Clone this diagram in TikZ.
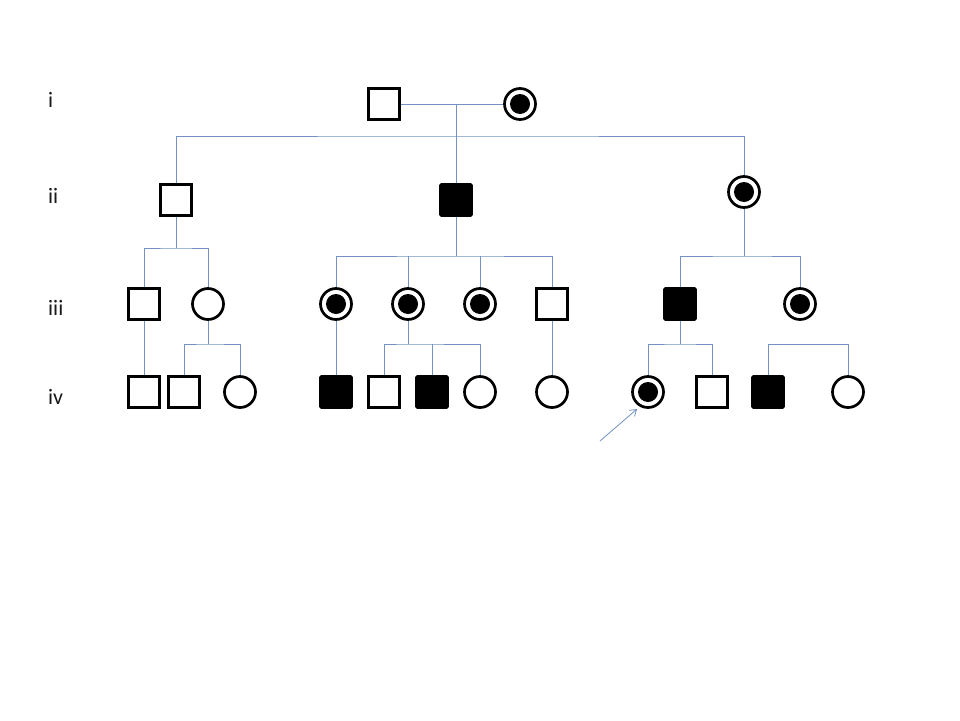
\documentclass[tikz,border=0pt]{standalone}
\usepackage{fontspec}
\setmainfont{Carlito}
\usetikzlibrary{arrows.meta}
\definecolor{link}{RGB}{115,145,195}
\tikzset{
  person/.style={draw=black,line width=2.7pt,inner sep=0pt,minimum size=31pt},
  male/.style={person,rectangle},
  malea/.style={person,rectangle,fill=black,rounded corners=1pt},
  female/.style={person,circle},
  carrier/.style={person,circle,path picture={\fill[black] (path picture bounding box.center) circle (10pt);}},
  link/.style={draw=link,line width=1pt},
  genlabel/.style={anchor=west,inner sep=0pt,font=\fontsize{22}{26}\selectfont,text=black!90}
}
\begin{document}
\begin{tikzpicture}[x=1pt,y=-1pt]
\useasboundingbox[fill=white] (0,0) rectangle (960,720);
% labels
\node[genlabel] (li) at (48,100) {i};
\node[genlabel] (lii) at (48,196) {ii};
\node[genlabel] (liii) at (48,308) {iii};
\node[genlabel] (liv) at (48,397) {iv};
% generation i
\node[male] (a1) at (384,104) {};
\node[carrier] (a2) at (520,104) {};
% generation ii
\node[male] (b1) at (176,200) {};
\node[malea] (b2) at (456,200) {};
\node[carrier] (b3) at (744,192) {};
% generation iii
\node[male] (c1) at (144,304) {};
\node[female] (c2) at (208,304) {};
\node[carrier] (c3) at (336,304) {};
\node[carrier] (c4) at (408,304) {};
\node[carrier] (c5) at (480,304) {};
\node[male] (c6) at (552,304) {};
\node[malea] (c7) at (680,304) {};
\node[carrier] (c8) at (800,304) {};
% generation iv
\node[male] (d1) at (144,392) {};
\node[male] (d2) at (184,392) {};
\node[female] (d3) at (240,392) {};
\node[malea] (d4) at (336,392) {};
\node[male] (d5) at (384,392) {};
\node[malea] (d6) at (432,392) {};
\node[female] (d7) at (480,392) {};
\node[female] (d8) at (552,392) {};
\node[carrier] (d9) at (648,392) {};
\node[male] (d10) at (712,392) {};
\node[malea] (d11) at (768,392) {};
\node[female] (d12) at (848,392) {};
% junction coordinates
\coordinate (m1) at (456,104);
\coordinate (s1) at (456,136);
\coordinate (s2) at (176,248);
\coordinate (s3) at (456,256);
\coordinate (s4) at (744,256);
\coordinate (s5) at (208,344);
\coordinate (s6) at (408,344);
\coordinate (s7) at (680,344);
\coordinate (s8) at (768,344);
% connectors
\draw[link] (a1.east) -- (a2.west);
\draw[link] (m1) -- (s1);
\draw[link] (b1.north) |- (s1) -| (b3.north);
\draw[link] (s1) -- (b2.north);
\draw[link] (b1.south) -- (s2);
\draw[link] (c1.north) |- (s2) -| (c2.north);
\draw[link] (b2.south) -- (s3);
\draw[link] (c3.north) |- (s3) -| (c6.north);
\draw[link] (c4.north) -- (c4.north |- s3);
\draw[link] (c5.north) -- (c5.north |- s3);
\draw[link] (b3.south) -- (s4);
\draw[link] (c7.north) |- (s4) -| (c8.north);
\draw[link] (c1.south) -- (d1.north);
\draw[link] (c2.south) -- (s5);
\draw[link] (d2.north) |- (s5) -| (d3.north);
\draw[link] (c3.south) -- (d4.north);
\draw[link] (c4.south) -- (s6);
\draw[link] (d5.north) |- (s6) -| (d7.north);
\draw[link] (d6.north) -- (d6.north |- s6);
\draw[link] (c6.south) -- (d8.north);
\draw[link] (c7.south) -- (s7);
\draw[link] (d9.north) |- (s7) -| (d10.north);
\draw[link] (d11.north) |- (s8) -| (d12.north);
% proband arrow
\coordinate (arr) at (600,441);
\coordinate (arrtip) at (637,409);
\draw[link,line width=0.8pt,-{Straight Barb[length=6pt,width=8pt]}] (arr) -- (arrtip);
\end{tikzpicture}
\end{document}
